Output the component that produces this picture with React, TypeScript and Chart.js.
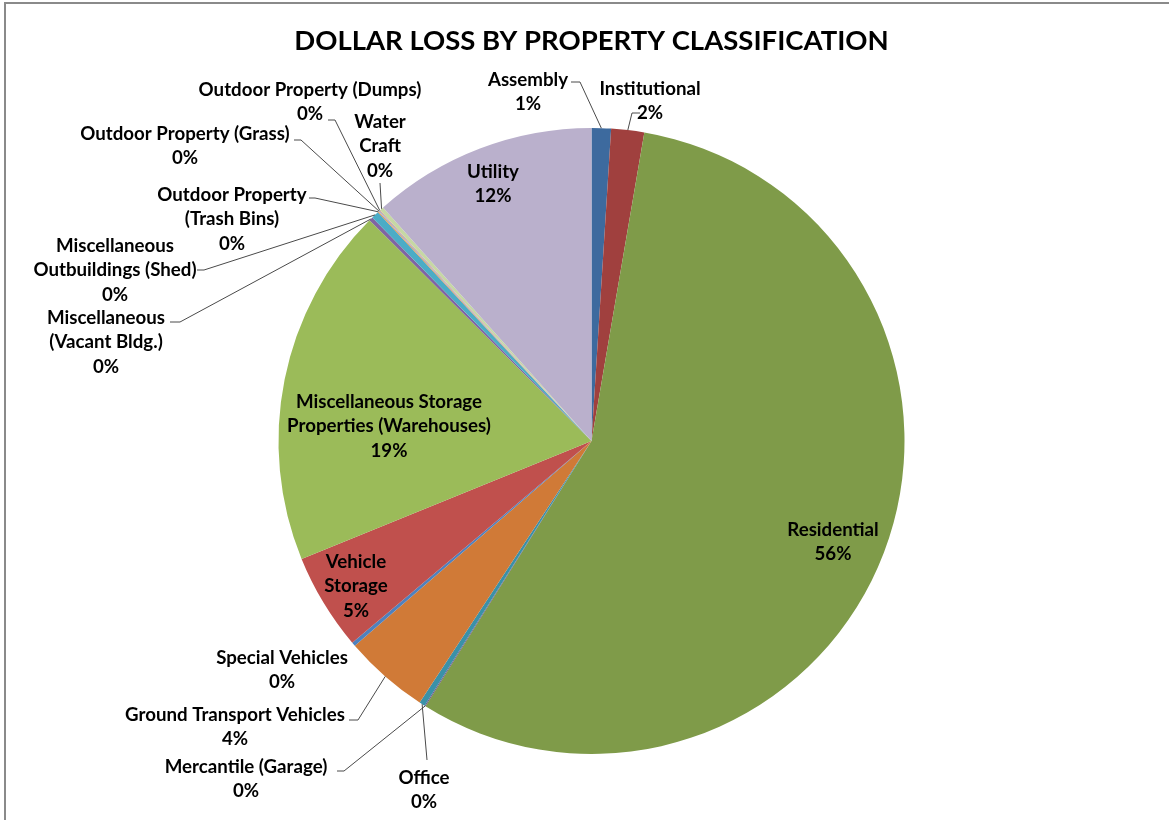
import React, { useEffect, useRef } from "react";
import { Chart, registerables } from "chart.js";

Chart.register(...registerables);

const chartTitle = "DOLLAR LOSS BY PROPERTY CLASSIFICATION";

const categories = [
  "Assembly",
  "Institutional",
  "Residential",
  "Mercantile (Garage)",
  "Office",
  "Ground Transport Vehicles",
  "Special Vehicles",
  "Vehicle Storage",
  "Miscellaneous Storage Properties (Warehouses)",
  "Miscellaneous (Vacant Bldg.)",
  "Miscellaneous Outbuildings (Shed)",
  "Outdoor Property (Trash Bins)",
  "Outdoor Property (Grass)",
  "Outdoor Property (Dumps)",
  "Water Craft",
  "Utility",
];

// share of dollar loss (percent)
const lossShare = [1.0, 1.7, 56.2, 0.05, 0.3, 4.4, 0.2, 5.0, 18.6, 0.2, 0.4, 0.05, 0.05, 0.05, 0.2, 11.6];

// how each category name is broken into lines on the chart
const labelLines = [
  ["Assembly"],
  ["Institutional"],
  ["Residential"],
  ["Mercantile (Garage)"],
  ["Office"],
  ["Ground Transport Vehicles"],
  ["Special Vehicles"],
  ["Vehicle", "Storage"],
  ["Miscellaneous Storage", "Properties (Warehouses)"],
  ["Miscellaneous", "(Vacant Bldg.)"],
  ["Miscellaneous", "Outbuildings (Shed)"],
  ["Outdoor Property", "(Trash Bins)"],
  ["Outdoor Property (Grass)"],
  ["Outdoor Property (Dumps)"],
  ["Water", "Craft"],
  ["Utility"],
];

const sliceColors = [
  "#3D6A9E", "#A0403E", "#7F9B49", "#684F86", "#3A91A8", "#D07A37",
  "#4F81BD", "#C0504D", "#9BBB59", "#8064A2", "#4BACC6", "#F79646",
  "#95B3D7", "#D99694", "#C6D8A4", "#BAB0CC",
];

// label layout, offsets from the pie centre: [x, first line y], leader elbows (label side first)
type Layout = { x: number; y: number; leader?: number[][] };
const labelLayout: Layout[] = [
  { x: -63.5, y: -361, leader: [[-20.5, -359], [-11.5, -359]] },
  { x: 58.5, y: -352, leader: [[48.5, -328], [40.5, -328]] },
  { x: 241.5, y: 89 },
  { x: -345.5, y: 326, leader: [[-254.5, 330], [-247.5, 330]] },
  { x: -167.5, y: 337, leader: [[-164.5, 319]] },
  { x: -356.5, y: 274, leader: [[-242.5, 279], [-233.5, 279]] },
  { x: -309.5, y: 217 },
  { x: -235.5, y: 121 },
  { x: -202.5, y: -39 },
  { x: -485.5, y: -123, leader: [[-421.5, -119], [-411.5, -119]] },
  { x: -476.5, y: -195, leader: [[-394.5, -171], [-387.5, -171]] },
  { x: -359.5, y: -246, leader: [[-282.5, -243], [-276.5, -243]] },
  { x: -406.5, y: -307, leader: [[-297.5, -301], [-290.5, -301]] },
  { x: -281.5, y: -351, leader: [[-263.5, -321], [-256.5, -321]] },
  { x: -211.5, y: -319, leader: [[-211.5, -258]] },
  { x: -98.5, y: -269 },
];

const FONT = "Lato, 'Open Sans', sans-serif";

const labelPlugin = {
  id: "pieLabels",
  afterDatasetsDraw(chart: any) {
    const ctx = chart.ctx as CanvasRenderingContext2D;
    const meta = chart.getDatasetMeta(0);
    const data = chart.data.datasets[0].data as number[];
    const total = data.reduce((a, b) => a + b, 0);
    ctx.save();
    // title
    ctx.fillStyle = "#000";
    ctx.font = `bold 27.5px ${FONT}`;
    ctx.textAlign = "center";
    ctx.textBaseline = "middle";
    ctx.fillText(chartTitle, chart.width / 2 + 7, 41);

    meta.data.forEach((arc: any, i: number) => {
      const p = arc.getProps(["x", "y", "startAngle", "endAngle", "outerRadius"], true);
      const lay = labelLayout[i];
      const cx = p.x;
      const cy = p.y;
      if (lay.leader) {
        const mid = (p.startAngle + p.endAngle) / 2;
        const ax = cx + Math.cos(mid) * p.outerRadius;
        const ay = cy + Math.sin(mid) * p.outerRadius;
        ctx.beginPath();
        ctx.strokeStyle = "#4a4a4a";
        ctx.lineWidth = 1;
        lay.leader.forEach((pt, k) => {
          if (k === 0) ctx.moveTo(cx + pt[0], cy + pt[1]);
          else ctx.lineTo(cx + pt[0], cy + pt[1]);
        });
        ctx.lineTo(ax, ay);
        ctx.stroke();
      }
      const pct = Math.round((data[i] / total) * 100) + "%";
      const lines = [...labelLines[i], pct];
      ctx.fillStyle = "#000";
      ctx.font = `bold 18.7px ${FONT}`;
      ctx.textAlign = "center";
      ctx.textBaseline = "middle";
      lines.forEach((t, k) => {
        ctx.fillText(t, cx + lay.x, cy + lay.y + k * 24.3);
      });
    });
    ctx.restore();
  },
};

export default function App() {
  const ref = useRef<HTMLCanvasElement | null>(null);
  useEffect(() => {
    if (!ref.current) return;
    const chart = new Chart(ref.current, {
      type: "pie",
      data: {
        labels: categories,
        datasets: [
          {
            data: lossShare,
            backgroundColor: sliceColors,
            borderWidth: 0,
            hoverOffset: 0,
          },
        ],
      },
      options: {
        responsive: false,
        animation: false,
        layout: { padding: { left: 278.5, right: 264.5, top: 128, bottom: 66 } },
        plugins: {
          legend: { display: false },
          tooltip: { enabled: false },
          title: { display: false },
        },
      },
      plugins: [labelPlugin],
    });
    return () => chart.destroy();
  }, []);
  return (
    <div style={{ position: "absolute", left: 0, top: 0, width: 1169, height: 820, background: "#fff", overflow: "hidden" }}>
      <canvas ref={ref} width={1169} height={820} style={{ display: "block" }} />
      <div
        style={{
          position: "absolute",
          left: 4,
          top: 2,
          width: 1300,
          height: 1000,
          borderTop: "2px solid #8a8a8a",
          borderLeft: "2px solid #8a8a8a",
          pointerEvents: "none",
        }}
      />
    </div>
  );
}
